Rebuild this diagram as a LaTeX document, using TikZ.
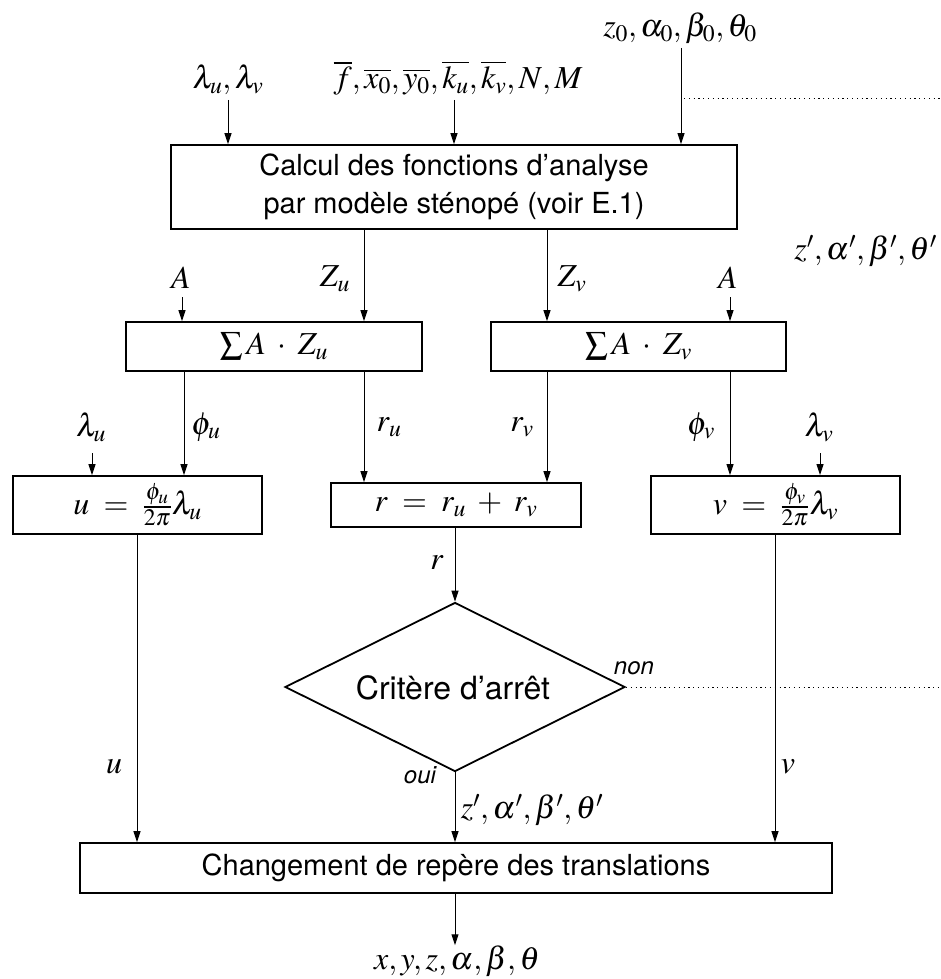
\documentclass[tikz,border=0pt]{standalone}
\usepackage{mathptmx}
\usepackage[no-math]{fontspec}
\setmainfont{TeX Gyre Heros}
\usetikzlibrary{arrows.meta,shapes.geometric}
\tikzset{
  box/.style={draw, line width=1.8pt, rectangle, inner sep=0pt, align=center},
  lbl/.style={inner sep=0pt, font=\fontsize{32}{38}\selectfont},
  conn/.style={line width=1pt, -{Triangle[length=11pt,width=7pt]}},
  fb/.style={line width=1pt, dash pattern=on 1.2pt off 3.6pt},
  yn/.style={inner sep=0pt, font=\fontsize{24}{28}\selectfont\itshape},
}
\begin{document}
\begin{tikzpicture}[x=1pt,y=-1pt,
  every node/.append style={font=\fontsize{29}{38}\selectfont}]
\useasboundingbox (0,0) rectangle (940,979);

% inputs at top
\node[lbl] (lam) at (228,80) {$\lambda_u, \lambda_v$};
\node[lbl] (par) at (458,78) {$\overline{f}, \overline{x_0}, \overline{y_0}, \overline{k_u}, \overline{k_v}, N, M$};
\node[lbl] (init) at (680,28) {$z_0, \alpha_0, \beta_0, \theta_0$};

% top box
\node[box, minimum width=566pt, minimum height=84pt] (calc) at (454,187)
  {Calcul des fonctions d'analyse\\par modèle sténopé (voir E.1)};

\coordinate (lamT) at (228,100);
\coordinate (parT) at (454,100);
\coordinate (initT) at (681,48);
\draw[conn] (lamT) -- (lamT |- calc.north);
\draw[conn] (parT) -- (parT |- calc.north);
\draw[conn] (initT) -- (initT |- calc.north);

% feedback (cut at right edge)
\coordinate (fbA) at (684,99);
\coordinate (fbB) at (940,99);
\draw[fb] (fbA) -- (fbB);
\node[lbl, anchor=east] (fbl) at (937,251) {$z', \alpha', \beta', \theta'$};

% sum boxes
\node[box, minimum width=296pt, minimum height=49pt, font=\fontsize{32}{38}\selectfont] (sumu) at (274,346.5) {$\textstyle\sum A \;\cdot\; Z_u$};
\node[box, minimum width=295pt, minimum height=49pt, font=\fontsize{32}{38}\selectfont] (sumv) at (638.5,346.5) {$\textstyle\sum A \;\cdot\; Z_v$};

\coordinate (zuX) at (364,0);
\coordinate (zvX) at (547,0);
\draw[conn] (zuX |- calc.south) -- (zuX |- sumu.north);
\draw[conn] (zvX |- calc.south) -- (zvX |- sumv.north);
\node[lbl] (zul) at (335,279) {$Z_u$};
\node[lbl] (zvl) at (572,279) {$Z_v$};

\node[lbl] (au) at (181,278) {$A$};
\node[lbl] (av) at (728,278) {$A$};
\coordinate (auT) at (182,297);
\coordinate (avT) at (730,297);
\draw[conn] (auT) -- (auT |- sumu.north);
\draw[conn] (avT) -- (avT |- sumv.north);

% third row boxes
\node[box, minimum width=249pt, minimum height=58pt, font=\fontsize{32}{38}\selectfont] (ub) at (137.5,505) {$u \;=\; \frac{\phi_u}{2\pi}\lambda_u$};
\node[box, minimum width=250pt, minimum height=44pt, font=\fontsize{32}{38}\selectfont] (rb) at (456,505) {$r \;=\; r_u \;+\; r_v$};
\node[box, minimum width=249pt, minimum height=58pt, font=\fontsize{32}{38}\selectfont] (vb) at (775.5,505) {$v \;=\; \frac{\phi_v}{2\pi}\lambda_v$};

\coordinate (phuX) at (184,0);
\coordinate (ruX) at (364,0);
\coordinate (rvX) at (547,0);
\coordinate (phvX) at (730,0);
\draw[conn] (phuX |- sumu.south) -- (phuX |- ub.north);
\draw[conn] (ruX |- sumu.south) -- (ruX |- rb.north);
\draw[conn] (rvX |- sumv.south) -- (rvX |- rb.north);
\draw[conn] (phvX |- sumv.south) -- (phvX |- vb.north);
\node[lbl] (phul) at (206,427) {$\phi_u$};
\node[lbl] (rul) at (389,427) {$r_u$};
\node[lbl] (rvl) at (522,427) {$r_v$};
\node[lbl] (phvl) at (701,427) {$\phi_v$};

\node[lbl] (lu) at (91,427) {$\lambda_u$};
\node[lbl] (lv) at (819,427) {$\lambda_v$};
\coordinate (luT) at (92,453);
\coordinate (lvT) at (820,453);
\draw[conn] (luT) -- (luT |- ub.north);
\draw[conn] (lvT) -- (lvT |- vb.north);

% decision
\node[diamond, draw, line width=1.8pt, minimum width=340pt, minimum height=169pt, inner sep=0pt] (crit) at (455,687) {};
\node[inner sep=0pt, font=\fontsize{32}{38}\selectfont] (critt) at (453,688) {Critère d'arrêt};
\coordinate (rX) at (455,0);
\draw[conn] (rX |- rb.south) -- (crit.north);
\node[lbl] (rl) at (437,563) {$r$};

\node[yn] (non) at (634,668) {non};
\node[yn] (oui) at (420,775) {oui};
\coordinate (fbC) at (940,687);
\draw[fb] (crit.east) -- (fbC);

% bottom box
\node[box, minimum width=752pt, minimum height=50pt] (chg) at (456,868) {Changement de repère des translations};

\coordinate (uX) at (137,0);
\coordinate (vX) at (775,0);
\draw[conn] (uX |- ub.south) -- (uX |- chg.north);
\draw[conn] (vX |- vb.south) -- (vX |- chg.north);
\draw[conn] (crit.south) -- (crit.south |- chg.north);
\node[lbl] (ul) at (114,767) {$u$};
\node[lbl] (vl) at (788,767) {$v$};
\node[lbl] (zl) at (532,810) {$z', \alpha', \beta', \theta'$};

% output
\node[lbl] (out) at (457,961) {$x, y, z, \alpha, \beta, \theta$};
\coordinate (outT) at (455,0);
\draw[conn] (outT |- chg.south) -- (outT |- out.north);
\end{tikzpicture}
\end{document}
